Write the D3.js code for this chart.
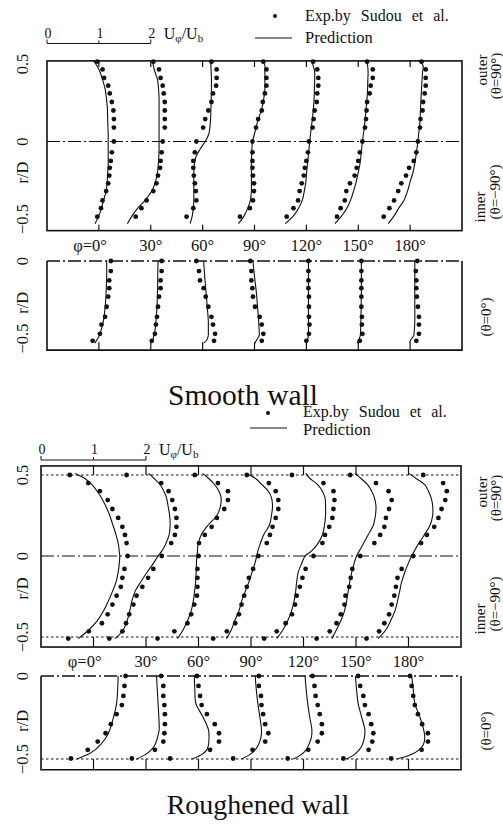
<!DOCTYPE html>
<html>
<head>
<meta charset="utf-8">
<script src="https://cdn.jsdelivr.net/npm/d3@7"></script>
<style>
  body { margin: 0; background: #fff; }
  svg { display: block; }
  text { font-family: "Liberation Serif", "Times New Roman", serif; fill: #111; }
</style>
</head>
<body>
<svg id="chart" width="503" height="831"></svg>
<script>
// ---- data (U/Ub values, r/D positions) ----
const stationLabels = ["φ=0°", "30°", "60°", "90°", "120°", "150°", "180°"];
const scaleLabels = [0, 1, 2];
const rTicksUpper = [0.5, 0, -0.5];
const rTicksLower = [0, -0.5];

// smooth wall, outer/inner plane
const smoothUpperExpR = [0.515, 0.465, 0.41, 0.36, 0.31, 0.255, 0.20, 0.145, 0.09, 0, -0.07, -0.125, -0.17, -0.22, -0.27, -0.32, -0.38, -0.43, -0.485];
const smoothUpperExpU = [
  [0.97, 1.07, 1.10, 1.18, 1.21, 1.25, 1.28, 1.29, 1.29, 1.29, 1.25, 1.23, 1.21, 1.20, 1.18, 1.14, 1.07, 1.04, 0.97],
  [1.05, 1.16, 1.19, 1.23, 1.25, 1.27, 1.27, 1.27, 1.27, 1.23, 1.21, 1.19, 1.18, 1.14, 1.11, 1.05, 0.92, 0.82, 0.71],
  [1.17, 1.27, 1.27, 1.26, 1.20, 1.17, 1.11, 1.05, 1.01, 0.88, 0.85, 0.82, 0.82, 0.83, 0.85, 0.87, 0.88, 0.82, 0.69],
  [1.17, 1.23, 1.23, 1.23, 1.20, 1.16, 1.14, 1.07, 1.03, 0.96, 0.96, 0.96, 0.96, 0.97, 0.99, 0.99, 0.97, 0.91, 0.72],
  [1.13, 1.21, 1.23, 1.23, 1.21, 1.20, 1.16, 1.14, 1.12, 1.05, 1.03, 1.00, 0.97, 0.95, 0.91, 0.87, 0.84, 0.75, 0.62],
  [1.17, 1.28, 1.28, 1.24, 1.22, 1.17, 1.16, 1.15, 1.13, 1.08, 1.03, 1.00, 0.97, 0.93, 0.84, 0.77, 0.74, 0.66, 0.59],
  [1.22, 1.30, 1.30, 1.30, 1.28, 1.25, 1.24, 1.20, 1.19, 1.15, 1.12, 1.07, 0.98, 0.92, 0.83, 0.77, 0.69, 0.60, 0.49]
];
const smoothUpperPredR = [0.525, 0.49, 0.45, 0.40, 0.34, 0.28, 0.21, 0.13, 0.05, 0, -0.05, -0.10, -0.15, -0.20, -0.26, -0.32, -0.38, -0.43, -0.48, -0.53];
const smoothUpperPredU = [
  [0.89, 0.96, 1.02, 1.07, 1.12, 1.145, 1.165, 1.17, 1.18, 1.18, 1.18, 1.18, 1.18, 1.17, 1.16, 1.14, 1.09, 1.05, 1.00, 0.925],
  [1.04, 1.05, 1.08, 1.13, 1.15, 1.16, 1.16, 1.16, 1.16, 1.16, 1.16, 1.155, 1.145, 1.13, 1.09, 1.02, 0.89, 0.75, 0.64, 0.55],
  [1.16, 1.16, 1.165, 1.17, 1.17, 1.165, 1.16, 1.15, 1.12, 1.05, 0.95, 0.87, 0.84, 0.83, 0.83, 0.83, 0.83, 0.82, 0.80, 0.76],
  [1.14, 1.20, 1.20, 1.20, 1.20, 1.18, 1.14, 1.06, 1.00, 0.96, 0.95, 0.945, 0.94, 0.94, 0.94, 0.94, 0.92, 0.87, 0.80, 0.69],
  [1.10, 1.13, 1.16, 1.16, 1.155, 1.15, 1.135, 1.11, 1.08, 1.065, 1.05, 1.035, 1.02, 1.005, 0.99, 0.96, 0.92, 0.85, 0.75, 0.59],
  [1.16, 1.18, 1.19, 1.185, 1.18, 1.17, 1.15, 1.13, 1.10, 1.08, 1.065, 1.05, 1.03, 1.00, 0.96, 0.91, 0.85, 0.78, 0.68, 0.55],
  [1.15, 1.25, 1.24, 1.23, 1.22, 1.21, 1.20, 1.19, 1.165, 1.15, 1.13, 1.11, 1.085, 1.055, 1.00, 0.95, 0.88, 0.78, 0.69, 0.58]
];

// smooth wall, side plane (theta = 0)
const smoothLowerExpR = [0, -0.065, -0.125, -0.175, -0.23, -0.295, -0.36, -0.41, -0.47, -0.515];
const smoothLowerExpU = [
  [1.23, 1.23, 1.20, 1.20, 1.18, 1.15, 1.12, 1.05, 1.02, 0.88],
  [1.21, 1.21, 1.19, 1.19, 1.16, 1.14, 1.12, 1.10, 1.08, 1.02],
  [0.88, 0.93, 0.95, 1.02, 1.06, 1.11, 1.17, 1.20, 1.24, 1.22],
  [0.92, 0.94, 0.94, 0.96, 0.97, 1.01, 1.10, 1.14, 1.17, 1.14],
  [1.04, 1.04, 1.04, 1.04, 1.05, 1.05, 1.05, 1.06, 1.05, 1.00],
  [1.06, 1.06, 1.06, 1.06, 1.06, 1.06, 1.07, 1.07, 1.08, 1.03],
  [1.14, 1.11, 1.12, 1.12, 1.13, 1.15, 1.17, 1.17, 1.17, 1.12]
];
const smoothLowerPredR = [0, -0.1, -0.2, -0.3, -0.39, -0.45, -0.48, -0.51, -0.53];
const smoothLowerPredU = [
  [1.15, 1.15, 1.14, 1.12, 1.085, 1.04, 1.01, 0.96, 0.925],
  [1.14, 1.135, 1.13, 1.12, 1.10, 1.08, 1.06, 1.04, 1.02],
  [1.02, 1.04, 1.065, 1.09, 1.11, 1.11, 1.11, 1.08, 1.02],
  [0.97, 1.00, 1.035, 1.06, 1.08, 1.09, 1.09, 1.04, 1.01],
  [1.04, 1.04, 1.04, 1.04, 1.04, 1.04, 1.04, 1.02, 1.00],
  [1.06, 1.06, 1.06, 1.055, 1.05, 1.045, 1.04, 1.01, 0.98],
  [1.09, 1.09, 1.09, 1.09, 1.09, 1.08, 1.07, 1.01, 0.99]
];

// roughened wall, outer/inner plane
const roughUpperExpR = [0.50, 0.45, 0.40, 0.345, 0.29, 0.235, 0.18, 0.13, 0.08, 0, -0.08, -0.135, -0.19, -0.245, -0.30, -0.36, -0.415, -0.465, -0.51];
const roughUpperExpU = [
  [0.55, 0.90, 1.12, 1.27, 1.36, 1.47, 1.55, 1.60, 1.63, 1.65, 1.59, 1.55, 1.52, 1.44, 1.36, 1.27, 1.16, 0.91, 0.52],
  [0.63, 1.29, 1.43, 1.50, 1.55, 1.58, 1.58, 1.55, 1.48, 1.30, 1.14, 1.04, 0.93, 0.82, 0.76, 0.68, 0.62, 0.55, 0.30],
  [0.93, 1.37, 1.56, 1.56, 1.49, 1.35, 1.25, 1.12, 1.01, 1.00, 0.98, 0.98, 0.98, 0.97, 0.92, 0.86, 0.79, 0.54, 0.22],
  [0.92, 1.34, 1.47, 1.52, 1.52, 1.47, 1.41, 1.36, 1.30, 1.14, 1.04, 0.96, 0.92, 0.87, 0.82, 0.77, 0.70, 0.54, 0.28],
  [0.78, 1.38, 1.57, 1.59, 1.57, 1.55, 1.49, 1.41, 1.36, 1.19, 1.04, 0.98, 0.93, 0.87, 0.84, 0.78, 0.66, 0.49, 0.25],
  [0.89, 1.38, 1.62, 1.68, 1.63, 1.57, 1.54, 1.46, 1.35, 1.08, 0.93, 0.90, 0.87, 0.80, 0.78, 0.71, 0.63, 0.50, 0.25],
  [1.28, 1.66, 1.73, 1.70, 1.63, 1.57, 1.49, 1.35, 1.24, 1.09, 0.87, 0.79, 0.76, 0.73, 0.68, 0.63, 0.54, 0.44, 0.20]
];
const roughUpperPredR = [0.51, 0.48, 0.44, 0.40, 0.36, 0.31, 0.25, 0.19, 0.13, 0.07, 0.03, 0, -0.05, -0.10, -0.16, -0.22, -0.28, -0.34, -0.40, -0.46, -0.51];
const roughUpperPredU = [
  [0.65, 0.83, 0.97, 1.07, 1.15, 1.23, 1.31, 1.37, 1.43, 1.475, 1.49, 1.50, 1.49, 1.47, 1.43, 1.36, 1.28, 1.19, 1.07, 0.90, 0.71],
  [1.05, 1.15, 1.27, 1.34, 1.39, 1.42, 1.45, 1.46, 1.44, 1.37, 1.30, 1.23, 1.13, 1.02, 0.90, 0.79, 0.73, 0.69, 0.64, 0.56, 0.41],
  [1.08, 1.19, 1.31, 1.39, 1.43, 1.42, 1.35, 1.18, 1.05, 0.99, 0.98, 0.97, 0.96, 0.955, 0.945, 0.925, 0.90, 0.86, 0.79, 0.70, 0.60],
  [0.89, 1.08, 1.21, 1.33, 1.39, 1.41, 1.39, 1.35, 1.24, 1.17, 1.13, 1.11, 1.07, 1.02, 0.96, 0.89, 0.82, 0.77, 0.69, 0.62, 0.53],
  [1.04, 1.12, 1.27, 1.36, 1.41, 1.42, 1.42, 1.40, 1.36, 1.26, 1.15, 1.03, 0.96, 0.90, 0.87, 0.85, 0.82, 0.77, 0.70, 0.60, 0.49],
  [0.98, 1.09, 1.22, 1.30, 1.35, 1.38, 1.37, 1.33, 1.23, 1.13, 1.06, 1.01, 0.96, 0.92, 0.88, 0.85, 0.82, 0.78, 0.71, 0.62, 0.54],
  [1.00, 1.14, 1.31, 1.38, 1.43, 1.46, 1.46, 1.41, 1.30, 1.18, 1.11, 1.06, 0.99, 0.93, 0.87, 0.83, 0.79, 0.74, 0.66, 0.56, 0.42]
];

// roughened wall, side plane (theta = 0)
const roughLowerExpR = [0, -0.06, -0.12, -0.175, -0.23, -0.29, -0.345, -0.395, -0.445, -0.497];
const roughLowerExpU = [
  [1.61, 1.59, 1.57, 1.54, 1.44, 1.33, 1.23, 1.08, 0.89, 0.57],
  [1.29, 1.33, 1.33, 1.35, 1.36, 1.36, 1.35, 1.33, 1.17, 0.73],
  [0.97, 1.00, 1.03, 1.06, 1.16, 1.31, 1.39, 1.39, 1.22, 0.46],
  [1.15, 1.15, 1.19, 1.20, 1.23, 1.27, 1.33, 1.27, 1.03, 0.66],
  [1.17, 1.21, 1.23, 1.27, 1.31, 1.35, 1.35, 1.27, 1.09, 0.70],
  [1.04, 1.08, 1.14, 1.17, 1.24, 1.29, 1.33, 1.31, 1.24, 0.76],
  [1.03, 1.06, 1.09, 1.12, 1.18, 1.26, 1.37, 1.37, 1.25, 0.67]
];
const roughLowerPredR = [0, -0.08, -0.165, -0.25, -0.325, -0.37, -0.415, -0.445, -0.475, -0.50];
const roughLowerPredU = [
  [1.47, 1.46, 1.44, 1.38, 1.31, 1.24, 1.13, 1.03, 0.88, 0.68],
  [1.20, 1.215, 1.23, 1.245, 1.25, 1.22, 1.17, 1.10, 0.98, 0.82],
  [0.92, 0.93, 0.95, 1.09, 1.19, 1.20, 1.19, 1.16, 1.05, 0.87],
  [1.08, 1.10, 1.13, 1.17, 1.20, 1.19, 1.14, 1.08, 0.97, 0.82],
  [1.03, 1.05, 1.08, 1.12, 1.16, 1.15, 1.10, 1.05, 0.95, 0.81],
  [0.99, 1.01, 1.04, 1.11, 1.17, 1.16, 1.12, 1.06, 0.96, 0.82],
  [1.06, 1.09, 1.12, 1.22, 1.29, 1.31, 1.28, 1.20, 1.04, 0.78]
];

// ---- drawing ----
const svg = d3.select("#chart");
svg.append("rect").attr("width", 503).attr("height", 831).attr("fill", "#fff");

const dashDot = "13,3,2,3";
const ink = "#111";

function rotLabel(g, x, y, txt, size, anchor) {
  g.append("text")
    .attr("transform", `translate(${x},${y}) rotate(-90)`)
    .attr("text-anchor", anchor || "middle")
    .attr("dominant-baseline", "central")
    .attr("font-size", size)
    .text(txt);
}

function drawProfiles(g, x, y, expR, expU, predR, predU) {
  const line = d3.line()
    .x(d => d[0])
    .y(d => d[1])
    .curve(d3.curveCatmullRom.alpha(0.5));
  predU.forEach((us, i) => {
    g.append("path")
      .attr("d", line(predR.map((r, k) => [x(i + us[k]), y(r)])))
      .attr("fill", "none")
      .attr("stroke", ink)
      .attr("stroke-width", 1.1);
  });
  expU.forEach((us, i) => {
    g.selectAll(null)
      .data(expR.map((r, k) => [r, us[k]]))
      .join("circle")
      .attr("cx", d => x(i + d[1]))
      .attr("cy", d => y(d[0]))
      .attr("r", 2.4)
      .attr("fill", ink);
  });
}

function drawWall(o) {
  const g = svg.append("g");
  const x = d3.scaleLinear().domain([0, 8]).range(o.xRange);
  const yU = d3.scaleLinear().domain([-0.5, 0.5]).range(o.upperRange);
  const yL = d3.scaleLinear().domain([-0.5, 0]).range(o.lowerRange);
  const x0 = x(0), x1 = x(8);
  const uTop = yU(o.upperTop), uBot = yU(o.upperBottom);
  const lTop = yL(0), lBot = yL(o.lowerBottom);
  const inner = d3.range(1, 8);

  // legend
  g.append("circle").attr("cx", o.legend.dotX).attr("cy", o.legend.dotY).attr("r", 2).attr("fill", ink);
  g.append("text").attr("x", o.legend.textX).attr("y", o.legend.expY)
    .attr("font-size", 16).attr("word-spacing", 6).text("Exp.by Sudou et al.");
  g.append("line").attr("x1", o.legend.lineX0).attr("x2", o.legend.lineX1)
    .attr("y1", o.legend.lineY).attr("y2", o.legend.lineY).attr("stroke", ink).attr("stroke-width", 1);
  g.append("text").attr("x", o.legend.textX).attr("y", o.legend.predY)
    .attr("font-size", 16.5).text("Prediction");

  // scale bar 0..2 U/Ub
  g.append("path")
    .attr("d", `M${x(0)},${o.barY - 4}V${o.barY}H${x(2)}V${o.barY - 4}M${x(1)},${o.barY}V${o.barY - 3}`)
    .attr("fill", "none").attr("stroke", ink).attr("stroke-width", 1);
  g.selectAll(null).data(scaleLabels).join("text")
    .attr("x", d => x(d) + 1).attr("y", o.barY - 6)
    .attr("text-anchor", "middle").attr("font-size", 14).text(d => d);
  const ulab = g.append("text").attr("x", x(2) + 13).attr("y", o.barY - 5).attr("font-size", 16);
  ulab.append("tspan").text("U");
  ulab.append("tspan").attr("font-size", 11).attr("dy", 3).text("φ");
  ulab.append("tspan").attr("dy", -3).text("/U");
  ulab.append("tspan").attr("font-size", 11).attr("dy", 3).text("b");

  // upper panel
  g.append("rect").attr("x", x0).attr("y", uTop).attr("width", x1 - x0).attr("height", uBot - uTop)
    .attr("fill", "none").attr("stroke", ink).attr("stroke-width", 1.6);
  g.append("line").attr("x1", x0).attr("x2", x1).attr("y1", yU(0)).attr("y2", yU(0))
    .attr("stroke", ink).attr("stroke-width", 1.2).attr("stroke-dasharray", dashDot);
  if (o.wallLines) {
    [0.5, -0.5].forEach(r => g.append("line").attr("x1", x0).attr("x2", x1)
      .attr("y1", yU(r)).attr("y2", yU(r))
      .attr("stroke", ink).attr("stroke-width", 1).attr("stroke-dasharray", "2.5,2.5"));
  }
  const tTop = o.wallLines ? yU(0.5) : uTop + 6;
  const tBot = o.wallLines ? yU(-0.5) : uBot - 6;
  g.selectAll(null).data(inner).join("path")
    .attr("d", d => `M${x(d)},${uTop}V${tTop}M${x(d)},${uBot}V${tBot}`)
    .attr("stroke", ink).attr("stroke-width", 1.2);

  // lower panel: solid sides and bottom, dash-dot top at r/D = 0
  g.append("path").attr("d", `M${x0},${lTop}V${lBot}H${x1}V${lTop}`)
    .attr("fill", "none").attr("stroke", ink).attr("stroke-width", 1.6);
  g.append("line").attr("x1", x0).attr("x2", x1).attr("y1", lTop).attr("y2", lTop)
    .attr("stroke", ink).attr("stroke-width", 1.4).attr("stroke-dasharray", dashDot);
  if (o.wallLines) {
    g.append("line").attr("x1", x0).attr("x2", x1).attr("y1", yL(-0.5)).attr("y2", yL(-0.5))
      .attr("stroke", ink).attr("stroke-width", 1).attr("stroke-dasharray", "2.5,2.5");
  }
  const lt = o.wallLines ? yL(-0.5) : lBot - 8;
  g.selectAll(null).data(inner).join("path")
    .attr("d", d => `M${x(d)},${lBot}V${lt}`)
    .attr("stroke", ink).attr("stroke-width", 1.2);

  // profiles
  drawProfiles(g, x, yU, o.upper.expR, o.upper.expU, o.upper.predR, o.upper.predU);
  drawProfiles(g, x, yL, o.lower.expR, o.lower.expU, o.lower.predR, o.lower.predU);

  // station labels between the panels
  stationLabels.forEach((s, i) => {
    g.append("text").attr("x", x(i + 1) + (i === 0 ? 8 : 0)).attr("y", o.stationY)
      .attr("text-anchor", i === 0 ? "end" : "middle").attr("font-size", 16.5).text(s);
  });

  // left r/D axis labels
  const fmt = d => (d < 0 ? "−" : "") + Math.abs(d);
  rTicksUpper.forEach(r => rotLabel(g, 22, yU(r), fmt(r), 16.5));
  rTicksLower.forEach(r => rotLabel(g, 22, yL(r), fmt(r), 16.5));
  rotLabel(g, 22, yU(-0.2), "r/D", 16.5);
  rotLabel(g, 22, yL(-0.27), "r/D", 16.5);

  // right plane labels
  rotLabel(g, 482, o.outerY, "outer", 15);
  rotLabel(g, 496, o.outerY + 6, "(θ=90°)", 15);
  rotLabel(g, 480, o.innerY, "inner", 15);
  rotLabel(g, 495, o.innerY - 15, "(θ=−90°)", 15);
  rotLabel(g, 486, o.sideY, "(θ=0°)", 15);

  // title
  g.append("text").attr("x", o.titleX).attr("y", o.titleY).attr("text-anchor", "middle")
    .attr("font-size", o.titleSize).text(o.title);
}

drawWall({
  title: "Smooth wall", titleX: 243, titleY: 405, titleSize: 29.5,
  xRange: [47, 462],
  upperRange: [219, 64], upperTop: 0.52, upperBottom: -0.575,
  lowerRange: [338.5, 261], lowerBottom: -0.575,
  wallLines: false,
  legend: { dotX: 275, dotY: 16, textX: 305, expY: 21, lineX0: 255, lineX1: 292, lineY: 38, predY: 43 },
  barY: 43.5, stationY: 251,
  outerY: 70, innerY: 207, sideY: 317,
  upper: { expR: smoothUpperExpR, expU: smoothUpperExpU, predR: smoothUpperPredR, predU: smoothUpperPredU },
  lower: { expR: smoothLowerExpR, expU: smoothLowerExpU, predR: smoothLowerPredR, predU: smoothLowerPredU }
});

drawWall({
  title: "Roughened wall", titleX: 258, titleY: 814, titleSize: 28,
  xRange: [41, 461],
  upperRange: [637, 475], upperTop: 0.556, upperBottom: -0.562,
  lowerRange: [759, 676], lowerBottom: -0.565,
  wallLines: true,
  legend: { dotX: 268, dotY: 413, textX: 303, expY: 416.5, lineX0: 250, lineX1: 287, lineY: 428, predY: 435 },
  barY: 460, stationY: 667,
  outerY: 492, innerY: 619, sideY: 731,
  upper: { expR: roughUpperExpR, expU: roughUpperExpU, predR: roughUpperPredR, predU: roughUpperPredU },
  lower: { expR: roughLowerExpR, expU: roughLowerExpU, predR: roughLowerPredR, predU: roughLowerPredU }
});
</script>
</body>
</html>
